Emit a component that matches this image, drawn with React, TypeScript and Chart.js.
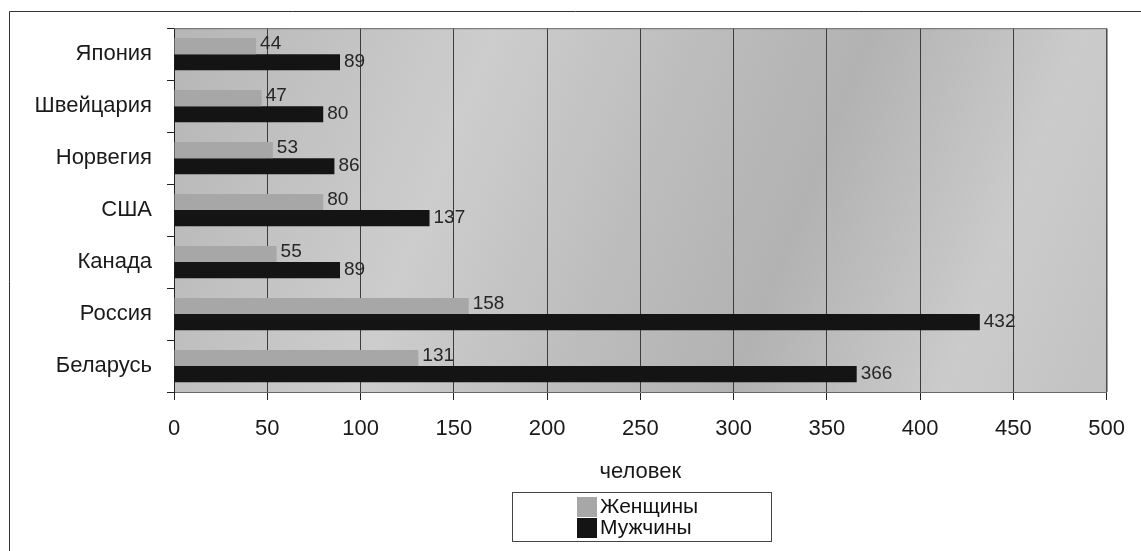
import React, { useEffect, useRef } from "react";
import { Chart, registerables } from "chart.js";

Chart.register(...registerables);

const categories = ["Япония", "Швейцария", "Норвегия", "США", "Канада", "Россия", "Беларусь"];
const women = [44, 47, 53, 80, 55, 158, 131];
const men = [89, 80, 86, 137, 89, 432, 366];
const seriesNames = ["Женщины", "Мужчины"];
const axisTitle = "человек";

const FONT = "'Liberation Sans', Arial, sans-serif";
const WOMEN_COLOR = "#a7a7a7";
const MEN_COLOR = "#141414";

const decorPlugin = {
  id: "decor",
  beforeDraw(chart: any) {
    const { ctx, chartArea: a } = chart;
    ctx.save();
    ctx.fillStyle = "#ffffff";
    ctx.fillRect(0, 0, chart.width, chart.height);
    const g = ctx.createLinearGradient(a.left, a.top, a.right, a.bottom);
    g.addColorStop(0, "#b6b6b6");
    g.addColorStop(0.3, "#cdcdcd");
    g.addColorStop(0.5, "#bcbcbc");
    g.addColorStop(0.65, "#b2b2b2");
    g.addColorStop(0.85, "#cbcbcb");
    g.addColorStop(1, "#c2c2c2");
    ctx.fillStyle = g;
    ctx.fillRect(a.left, a.top, a.right - a.left, a.bottom - a.top);
    ctx.restore();
  },
  afterDatasetsDraw(chart: any) {
    const { ctx } = chart;
    ctx.save();
    ctx.font = `19px ${FONT}`;
    ctx.fillStyle = "#262626";
    ctx.textAlign = "left";
    ctx.textBaseline = "middle";
    chart.data.datasets.forEach((ds: any, di: number) => {
      const meta = chart.getDatasetMeta(di);
      meta.data.forEach((el: any, i: number) => {
        const v = ds.data[i];
        ctx.fillText(String(v), el.x + 4, el.y + (di === 0 ? -2 : 0));
      });
    });
    ctx.restore();
  },
  afterDraw(chart: any) {
    const { ctx, chartArea: a } = chart;
    ctx.save();
    // plot border (top/right)
    ctx.strokeStyle = "#6a6a6a";
    ctx.lineWidth = 1;
    ctx.beginPath();
    ctx.moveTo(a.left, a.top + 0.5);
    ctx.lineTo(a.right + 0.5, a.top + 0.5);
    ctx.lineTo(a.right + 0.5, a.bottom);
    ctx.stroke();
    // outer frame
    ctx.strokeStyle = "#333333";
    ctx.beginPath();
    ctx.moveTo(9.5, chart.height);
    ctx.lineTo(9.5, 11.5);
    ctx.lineTo(chart.width, 11.5);
    ctx.stroke();
    // axis title
    ctx.fillStyle = "#1a1a1a";
    ctx.font = `22px ${FONT}`;
    ctx.textAlign = "center";
    ctx.textBaseline = "middle";
    ctx.fillText(axisTitle, (a.left + a.right) / 2, 472);
    // legend
    ctx.strokeStyle = "#444444";
    ctx.strokeRect(512.5, 492.5, 259, 49);
    const colors = [WOMEN_COLOR, MEN_COLOR];
    ctx.font = `21px ${FONT}`;
    ctx.textAlign = "left";
    seriesNames.forEach((name, i) => {
      const y = 497 + i * 21;
      ctx.fillStyle = colors[i];
      ctx.fillRect(577, y, 20, 20);
      ctx.fillStyle = "#111111";
      ctx.fillText(name, 600, y + 10.5);
    });
    ctx.restore();
  },
};

export default function App() {
  const ref = useRef<HTMLCanvasElement | null>(null);
  useEffect(() => {
    if (!ref.current) return;
    const chart = new Chart(ref.current, {
      type: "bar",
      data: {
        labels: categories,
        datasets: [
          {
            label: seriesNames[0],
            data: women,
            backgroundColor: WOMEN_COLOR,
            categoryPercentage: 0.62,
            barPercentage: 1,
          },
          {
            label: seriesNames[1],
            data: men,
            backgroundColor: MEN_COLOR,
            categoryPercentage: 0.62,
            barPercentage: 1,
          },
        ],
      },
      options: {
        indexAxis: "y",
        responsive: false,
        animation: false,
        layout: { padding: { left: 0, top: 28, right: 24, bottom: 0 } },
        plugins: {
          legend: { display: false },
          tooltip: { enabled: false },
        },
        scales: {
          x: {
            min: 0,
            max: 500,
            ticks: {
              stepSize: 50,
              color: "#1a1a1a",
              font: { family: FONT, size: 22 },
              padding: 16,
            },
            grid: {
              color: "#3c3c3c",
              lineWidth: 1,
              tickLength: 8,
              tickColor: "#222222",
            },
            border: { display: true, color: "#666666" },
            afterFit(scale: any) {
              scale.height = 159;
            },
          },
          y: {
            ticks: {
              color: "#1a1a1a",
              font: { family: FONT, size: 22 },
              padding: 15,
            },
            grid: {
              drawOnChartArea: false,
              tickLength: 7,
              color: "#222222",
            },
            border: { display: true, color: "#222222" },
            afterFit(scale: any) {
              scale.width = 174;
            },
          },
        },
      },
      plugins: [decorPlugin],
    });
    return () => chart.destroy();
  }, []);
  return (
    <div style={{ position: "fixed", left: 0, top: 0, width: 1141, height: 551, background: "#fff" }}>
      <canvas ref={ref} width={1141} height={551} style={{ display: "block" }} />
    </div>
  );
}
